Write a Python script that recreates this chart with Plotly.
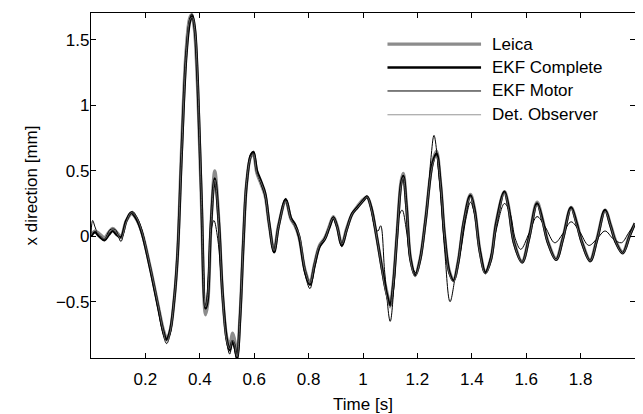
import plotly.graph_objects as go

# ---- data ----
t_complete = [0.000, 0.015, 0.030, 0.050, 0.065, 0.080, 0.095, 0.110, 0.130, 0.148, 0.165, 0.185,
              0.216, 0.247, 0.265, 0.277, 0.290, 0.305, 0.318, 0.333, 0.351, 0.365, 0.373, 0.382,
              0.392, 0.406, 0.421, 0.428, 0.440, 0.455, 0.470, 0.484, 0.500, 0.510, 0.520, 0.527,
              0.537, 0.548, 0.560, 0.572, 0.588, 0.597, 0.610, 0.625, 0.640, 0.655, 0.673, 0.690,
              0.716, 0.735, 0.750, 0.765, 0.787, 0.805, 0.822, 0.840, 0.860, 0.875, 0.891, 0.905,
              0.922, 0.940, 0.960, 0.980, 1.000, 1.015, 1.030, 1.050, 1.070, 1.085, 1.100, 1.110,
              1.125, 1.140, 1.148, 1.160, 1.175, 1.192, 1.210, 1.230, 1.255, 1.270, 1.285, 1.300,
              1.318, 1.333, 1.350, 1.370, 1.395, 1.410, 1.430, 1.450, 1.470, 1.490, 1.520, 1.535,
              1.555, 1.585, 1.610, 1.640, 1.660, 1.680, 1.710, 1.735, 1.765, 1.785, 1.805, 1.835,
              1.860, 1.890, 1.910, 1.930, 1.955, 1.980, 2.000]
ekf_complete = [0.00, 0.03, 0.00, -0.03, 0.01, 0.04, 0.01, -0.01, 0.12, 0.18, 0.14, 0.04,
                -0.23, -0.54, -0.72, -0.79, -0.73, -0.50, -0.15, 0.62, 1.40, 1.65, 1.68, 1.58,
                1.20, 0.30, -0.55, -0.50, 0.05, 0.44, 0.10, -0.45, -0.80, -0.87, -0.80, -0.83,
                -0.93, -0.62, -0.05, 0.40, 0.62, 0.64, 0.50, 0.42, 0.33, 0.10, -0.12, 0.08,
                0.28, 0.14, 0.09, 0.00, -0.27, -0.37, -0.22, -0.08, -0.02, 0.06, 0.14, 0.07,
                -0.07, 0.05, 0.17, 0.22, 0.27, 0.30, 0.22, 0.00, -0.25, -0.42, -0.53, -0.40,
                0.00, 0.40, 0.46, 0.22, -0.18, -0.30, -0.18, 0.12, 0.55, 0.63, 0.40, 0.00,
                -0.28, -0.34, -0.20, 0.10, 0.31, 0.20, -0.12, -0.28, -0.18, 0.10, 0.34, 0.22,
                -0.05, -0.20, -0.02, 0.25, 0.12, -0.05, -0.18, -0.02, 0.22, 0.10, -0.05, -0.19,
                -0.03, 0.20, 0.08, -0.05, -0.13, 0.00, 0.10]

t_leica = [0.000, 0.015, 0.030, 0.050, 0.065, 0.080, 0.095, 0.110, 0.130, 0.150, 0.167, 0.187,
           0.218, 0.249, 0.267, 0.279, 0.292, 0.306, 0.318, 0.332, 0.349, 0.362, 0.369, 0.379,
           0.390, 0.405, 0.421, 0.429, 0.441, 0.455, 0.470, 0.484, 0.500, 0.510, 0.520, 0.527,
           0.537, 0.548, 0.560, 0.572, 0.588, 0.597, 0.610, 0.625, 0.640, 0.655, 0.673, 0.690,
           0.716, 0.735, 0.750, 0.765, 0.787, 0.805, 0.822, 0.840, 0.860, 0.875, 0.891, 0.905,
           0.922, 0.940, 0.960, 0.980, 1.000, 1.015, 1.030, 1.050, 1.070, 1.085, 1.100, 1.110,
           1.125, 1.140, 1.148, 1.160, 1.175, 1.192, 1.210, 1.230, 1.255, 1.270, 1.285, 1.300,
           1.318, 1.333, 1.350, 1.370, 1.395, 1.410, 1.430, 1.450, 1.470, 1.490, 1.520, 1.535,
           1.555, 1.585, 1.610, 1.640, 1.660, 1.680, 1.710, 1.735, 1.765, 1.785, 1.805, 1.835,
           1.860, 1.890, 1.910, 1.930, 1.955, 1.980, 2.000]
leica = [0.01, 0.04, 0.02, -0.01, 0.03, 0.06, 0.03, 0.00, 0.12, 0.17, 0.13, 0.03,
         -0.24, -0.55, -0.72, -0.78, -0.71, -0.48, -0.15, 0.62, 1.40, 1.66, 1.69, 1.60,
         1.22, 0.32, -0.60, -0.52, 0.08, 0.50, 0.12, -0.45, -0.78, -0.83, -0.74, -0.78,
         -0.90, -0.60, -0.05, 0.40, 0.61, 0.62, 0.48, 0.40, 0.31, 0.09, -0.10, 0.09,
         0.27, 0.13, 0.08, -0.01, -0.26, -0.35, -0.21, -0.07, -0.01, 0.07, 0.15, 0.08,
         -0.06, 0.06, 0.17, 0.23, 0.28, 0.30, 0.22, 0.00, -0.24, -0.40, -0.51, -0.38,
         0.02, 0.42, 0.48, 0.24, -0.17, -0.29, -0.17, 0.13, 0.56, 0.65, 0.41, 0.01,
         -0.27, -0.33, -0.19, 0.10, 0.32, 0.21, -0.11, -0.27, -0.17, 0.11, 0.34, 0.23,
         -0.04, -0.19, -0.01, 0.26, 0.13, -0.04, -0.17, -0.01, 0.22, 0.11, -0.04, -0.18,
         -0.02, 0.20, 0.09, -0.04, -0.12, 0.01, 0.10]

t_motor = [0.000, 0.006, 0.015, 0.030, 0.050, 0.070, 0.090, 0.110, 0.130, 0.152, 0.168, 0.187,
           0.216, 0.247, 0.265, 0.278, 0.291, 0.305, 0.318, 0.333, 0.350, 0.364, 0.372, 0.381,
           0.391, 0.406, 0.421, 0.430, 0.442, 0.452, 0.466, 0.484, 0.500, 0.510, 0.520, 0.527,
           0.537, 0.548, 0.560, 0.572, 0.588, 0.598, 0.610, 0.625, 0.640, 0.655, 0.673, 0.690,
           0.716, 0.735, 0.750, 0.765, 0.787, 0.805, 0.822, 0.840, 0.860, 0.875, 0.891, 0.905,
           0.922, 0.940, 0.960, 0.980, 1.000, 1.015, 1.030, 1.045, 1.055, 1.065, 1.080, 1.100,
           1.115, 1.132, 1.144, 1.160, 1.176, 1.195, 1.215, 1.235, 1.250, 1.261, 1.280, 1.300,
           1.320, 1.340, 1.360, 1.380, 1.395, 1.410, 1.430, 1.450, 1.470, 1.490, 1.520, 1.540,
           1.560, 1.580, 1.610, 1.640, 1.670, 1.705, 1.735, 1.765, 1.795, 1.830, 1.860, 1.890,
           1.920, 1.950, 1.975, 2.000]
ekf_motor = [0.02, 0.12, 0.07, 0.00, -0.02, 0.05, 0.05, -0.04, 0.12, 0.19, 0.15, 0.05,
             -0.24, -0.56, -0.75, -0.82, -0.75, -0.51, -0.16, 0.62, 1.41, 1.67, 1.70, 1.58,
             1.19, 0.29, -0.55, -0.35, 0.05, 0.12, -0.02, -0.46, -0.82, -0.90, -0.82, -0.86,
             -0.95, -0.63, -0.06, 0.41, 0.63, 0.65, 0.50, 0.40, 0.30, 0.08, -0.13, 0.08,
             0.29, 0.13, 0.08, -0.02, -0.29, -0.40, -0.24, -0.08, -0.01, 0.07, 0.15, 0.07,
             -0.08, 0.05, 0.18, 0.23, 0.28, 0.31, 0.20, 0.06, 0.04, 0.08, -0.28, -0.65,
             -0.35, 0.15, 0.20, 0.04, -0.20, -0.28, -0.10, 0.20, 0.60, 0.77, 0.45, -0.10,
             -0.50, -0.30, -0.10, 0.15, 0.26, 0.17, -0.10, -0.27, -0.15, 0.05, 0.25, 0.18,
             -0.02, -0.10, 0.02, 0.15, 0.07, -0.05, 0.02, 0.11, 0.04, -0.07, -0.02, 0.04,
             -0.02, -0.05, 0.02, 0.10]

t_observer = t_complete
det_observer = [0.01, 0.05, 0.01, -0.02, 0.02, 0.05, 0.02, -0.02, 0.11, 0.18, 0.15, 0.05,
                -0.22, -0.53, -0.72, -0.81, -0.74, -0.50, -0.14, 0.63, 1.41, 1.66, 1.67, 1.57,
                1.19, 0.29, -0.54, -0.48, 0.06, 0.43, 0.09, -0.46, -0.81, -0.86, -0.79, -0.82,
                -0.92, -0.61, -0.04, 0.41, 0.61, 0.63, 0.48, 0.41, 0.32, 0.09, -0.11, 0.08,
                0.27, 0.13, 0.08, 0.01, -0.26, -0.36, -0.21, -0.07, -0.02, 0.07, 0.14, 0.07,
                -0.06, 0.05, 0.17, 0.22, 0.27, 0.30, 0.21, 0.00, -0.26, -0.44, -0.55, -0.40,
                0.00, 0.39, 0.45, 0.21, -0.19, -0.31, -0.18, 0.12, 0.54, 0.61, 0.39, -0.01,
                -0.29, -0.35, -0.20, 0.10, 0.30, 0.19, -0.13, -0.29, -0.18, 0.09, 0.33, 0.21,
                -0.05, -0.20, -0.02, 0.24, 0.11, -0.05, -0.18, -0.02, 0.21, 0.09, -0.05, -0.19,
                -0.03, 0.19, 0.08, -0.05, -0.13, 0.00, 0.10]

x_ticks = [0.2, 0.4, 0.6, 0.8, 1.0, 1.2, 1.4, 1.6, 1.8]
x_tick_text = ["0.2", "0.4", "0.6", "0.8", "1", "1.2", "1.4", "1.6", "1.8"]
y_ticks = [-0.5, 0, 0.5, 1, 1.5]
y_tick_text = ["\u22120.5", "0", "0.5", "1", "1.5"]

series_names = ["Leica", "EKF Complete", "EKF Motor", "Det. Observer"]
series_colors = ["#8c8c8c", "#000000", "#000000", "#7a7a7a"]
series_widths = [3.2, 2.6, 1.0, 0.8]

FONT = "Liberation Sans, Arial, Helvetica, sans-serif"
FS = 17

fig = go.Figure()
data_pairs = [(t_leica, leica), (t_complete, ekf_complete), (t_motor, ekf_motor), (t_observer, det_observer)]
for (tx, vy), name, col, w in zip(data_pairs, series_names, series_colors, series_widths):
    fig.add_trace(go.Scatter(x=tx, y=vy, mode="lines", name=name,
                             line=dict(color=col, width=w, shape="spline", smoothing=1.0),
                             showlegend=False, hoverinfo="skip"))

# legend drawn MATLAB-style (long line samples)
leg_y = [0.910, 0.842, 0.774, 0.705]
for yy, name, col, w in zip(leg_y, series_names, series_colors, series_widths):
    fig.add_shape(type="line", xref="paper", yref="paper", x0=0.545, x1=0.717, y0=yy, y1=yy,
                  line=dict(color=col, width=w))
    fig.add_annotation(xref="paper", yref="paper", x=0.733, y=yy, text=name, showarrow=False,
                       xanchor="left", yanchor="middle", font=dict(family=FONT, size=FS, color="black"))

# the page body adds an 8px offset, so the figure is sized/margined to compensate
fig.update_layout(
    width=635, height=406,
    margin=dict(l=83, r=8, t=5, b=56),
    paper_bgcolor="white", plot_bgcolor="white",
    font=dict(family=FONT, size=FS, color="black"),
    showlegend=False,
)
fig.update_xaxes(range=[0, 2.0], tickvals=x_ticks, ticktext=x_tick_text,
                 ticks="inside", ticklen=5, tickwidth=1, tickcolor="black",
                 showline=True, linecolor="black", linewidth=1.3, mirror="ticks",
                 showgrid=False, zeroline=False, automargin=False, ticklabelstandoff=5,
                 title=dict(text="Time [s]", standoff=10, font=dict(size=FS)))
fig.update_yaxes(range=[-0.93, 1.705], tickvals=y_ticks, ticktext=y_tick_text,
                 ticks="inside", ticklen=5, tickwidth=1, tickcolor="black",
                 showline=True, linecolor="black", linewidth=1.3, mirror="ticks",
                 showgrid=False, zeroline=False, automargin=False, ticklabelstandoff=-3,
                 title=dict(text="x direction [mm]", standoff=13, font=dict(size=FS)))

fig.write_html("out.html")
